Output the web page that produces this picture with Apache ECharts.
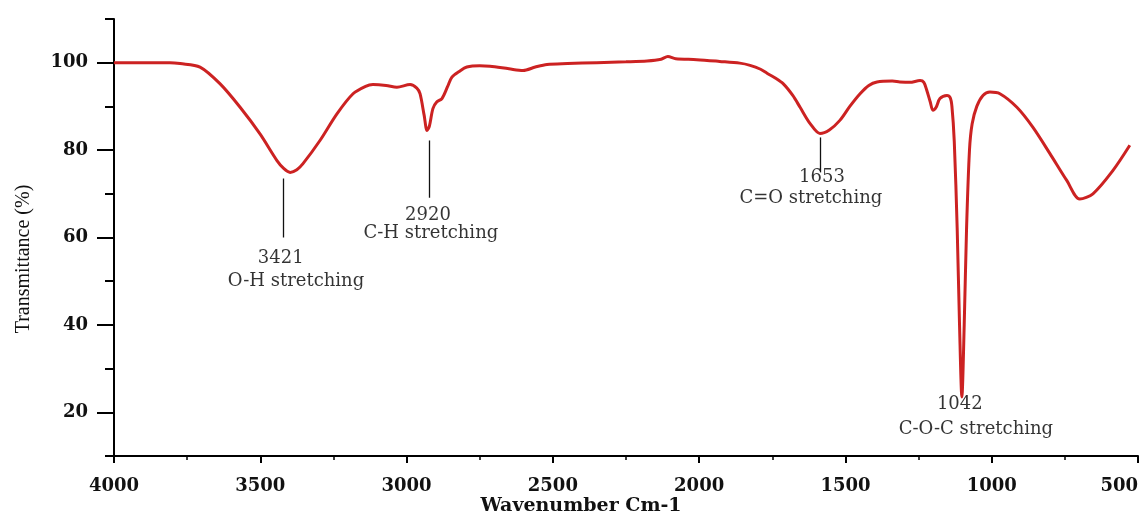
<!DOCTYPE html>
<html>
<head>
<meta charset="utf-8">
<script src="https://cdn.jsdelivr.net/npm/echarts@6/dist/echarts.min.js"></script>
<style>
html,body{margin:0;padding:0;background:#fff;}
#chart{width:1146px;height:518px;}
</style>
</head>
<body>
<div id="chart"></div>
<script>
// Wavenumber (cm-1) and transmittance (%)
var wavenumber = [4000,3900,3809,3774,3706,3638,3569,3501,3443,3420,3398,3375,3354,3296,3238,3183,3140,3115,3070,3033,2988,2965,2954,2940,2930,2922,2910,2897,2879,2860,2845,2820,2794,2750,2715,2650,2602,2560,2520,2450,2350,2250,2178,2130,2107,2080,2008,1930,1861,1826,1790,1768,1740,1713,1680,1655,1620,1587,1555,1519,1485,1450,1420,1392,1340,1314,1280,1245,1232,1222,1210,1201,1190,1177,1153,1142,1136,1128,1118,1110,1102,1094,1086,1076,1067,1051,1030,1006,972,914,859,801,743,699,654,586,528];
var transmittance = [100,100,100,99.8,99.0,95.2,89.8,83.7,77.6,75.8,74.9,75.5,76.9,82.2,88.3,92.9,94.6,95.0,94.8,94.4,95.0,94.2,92.9,88,84.5,85.5,89.5,91,91.8,94.5,96.7,98,99,99.3,99.2,98.6,98.2,99,99.6,99.8,100,100.2,100.4,100.8,101.4,100.9,100.7,100.3,99.9,99.4,98.5,97.6,96.5,95.2,92.5,89.8,86,83.8,84.6,86.8,90,92.9,94.8,95.6,95.8,95.6,95.5,95.9,95.5,93.7,91,89.1,89.8,91.8,92.5,92,90,82,62,40,23.5,40,62,80,86,90,92.5,93.3,92.9,89.8,85.2,79.2,73.0,68.8,70,75.3,81.1];

var xTicks = [500,1000,1500,2000,2500,3000,3500,4000];
var yMajorTicks = [20,40,60,80,100];
var yMinorTicks = [10,30,50,70,90,110];

// Peak annotations (anchored in data coordinates)
var peakNumbers = ['3421','2920','1653','1042'];
var peakNames = ['O-H stretching','C-H stretching','C=O stretching','C-O-C stretching'];
var peakLineX = [3421,2923,1587,null];
var peakLineTop = [73.5,82.2,82.9,null];
var peakLineBottom = [60.0,69.1,74.9,null];
var numberPos = [[3430,55.2],[2927,65.0],[1580,73.7],[1109,21.9]];
var namePos = [[3378,49.9],[2917,60.9],[1618,68.9],[1054,16.2]];

var curve = wavenumber.map(function(w,i){return [w, transmittance[i]];}).reverse();
var leaderLines = [];
for (var i=0;i<peakLineX.length;i++){
  if (peakLineX[i]!==null){
    leaderLines.push([{coord:[peakLineX[i],peakLineTop[i]]},{coord:[peakLineX[i],peakLineBottom[i]]}]);
  }
}
var labelPoints = [];
for (var j=0;j<peakNumbers.length;j++){
  labelPoints.push({value:[numberPos[j][0],numberPos[j][1]], txt:peakNumbers[j]});
  labelPoints.push({value:[namePos[j][0],namePos[j][1]], txt:peakNames[j]});
}

var chart = echarts.init(document.getElementById('chart'));
chart.setOption({
  backgroundColor:'#fff',
  animation:false,
  grid:{left:114,right:8,top:19,bottom:62,containLabel:false,outerBoundsMode:'none'},
  xAxis:{
    type:'value', inverse:true, min:500, max:4000, interval:500,
    axisLine:{show:true,onZero:false,lineStyle:{color:'#000',width:2}},
    axisTick:{show:true,inside:false,length:7,lineStyle:{color:'#000',width:2}},
    minorTick:{show:true,splitNumber:2,length:4,lineStyle:{color:'#000',width:1.5}},
    splitLine:{show:false},
    axisLabel:{margin:21,fontSize:18,fontFamily:'DejaVu Serif',fontWeight:'bold',color:'#111',
      alignMinLabel:'right',
      formatter:function(v){return String(v);}}
  },
  yAxis:[{
    type:'value', min:10, max:110,
    axisLine:{show:true,onZero:false,lineStyle:{color:'#000',width:2}},
    axisTick:{show:true,length:17,customValues:yMajorTicks,lineStyle:{color:'#000',width:2}},
    splitLine:{show:false},
    axisLabel:{margin:26,customValues:yMajorTicks,fontSize:18,fontFamily:'DejaVu Serif',fontWeight:'bold',color:'#111',
      formatter:function(v){return String(v);}}
  },{
    type:'value', min:10, max:110, position:'left',
    axisLine:{show:false},
    axisTick:{show:true,length:9,customValues:yMinorTicks,lineStyle:{color:'#000',width:2}},
    splitLine:{show:false},
    axisLabel:{show:false}
  }],
  graphic:[{
    type:'text', x:24, y:259, rotation:Math.PI/2,
    style:{text:'Transmittance (%)', fontFamily:'Liberation Serif', fontSize:20, fill:'#111', textAlign:'center', textVerticalAlign:'middle'}
  },{
    type:'text', x:581, y:506,
    style:{text:'Wavenumber Cm-1', fontFamily:'DejaVu Serif', fontWeight:'bold', fontSize:19, fill:'#111', textAlign:'center', textVerticalAlign:'middle'}
  }],
  series:[{
    type:'line', data:curve, showSymbol:false, smooth:0.3, yAxisIndex:0,
    lineStyle:{color:'#cc2222',width:3},
    markLine:{silent:true,symbol:['none','none'],label:{show:false},
      lineStyle:{color:'#111',width:1.3,type:'solid'},data:leaderLines}
  },{
    type:'scatter', data:labelPoints, symbolSize:0, yAxisIndex:0, silent:true,
    label:{show:true,position:'inside',formatter:function(p){return p.data.txt;},
      fontFamily:'DejaVu Serif',fontSize:18,color:'#000',align:'center',verticalAlign:'middle'}
  }]
});
</script>
</body>
</html>
